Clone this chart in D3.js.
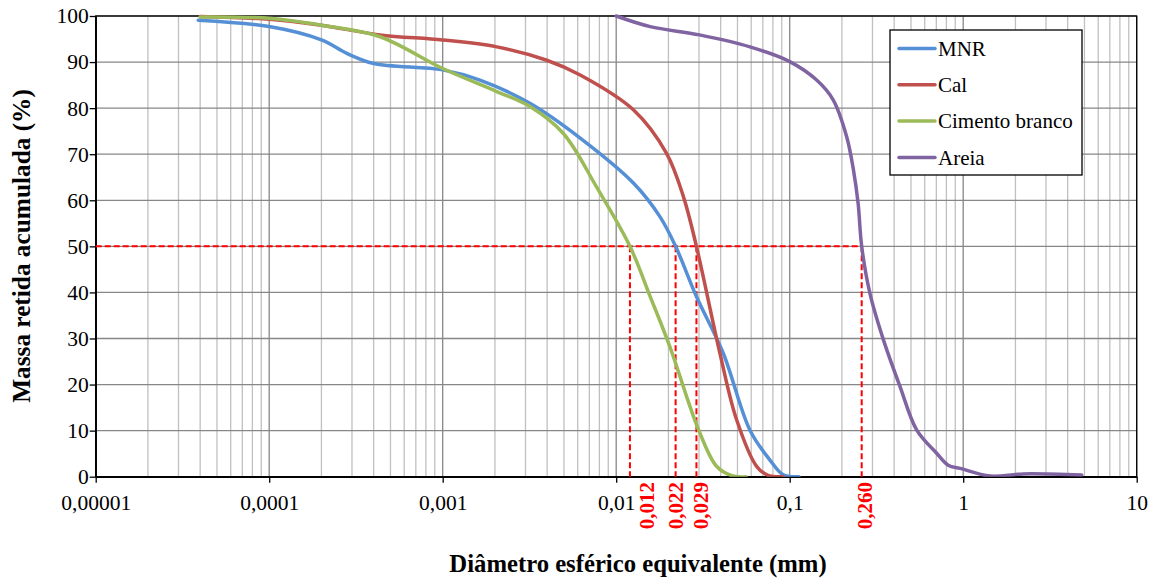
<!DOCTYPE html>
<html><head><meta charset="utf-8">
<script src="https://cdn.jsdelivr.net/npm/d3@7"></script>
<style>body{margin:0;background:#fff}svg{display:block}</style>
</head><body><svg id="c" width="1152" height="578"></svg>
<script>
const seriesNames = ["MNR","Cal","Cimento branco","Areia"];
const seriesColors = ["#5590D6","#C0504D","#9BBB59","#8064A2"];
const mnrD = [3.9e-5,1e-4,2e-4,2.8e-4,4e-4,1e-3,1.64e-3,3.2e-3,6.2e-3,0.0126,0.0179,0.022,0.029,0.0414,0.059,0.077,0.0918,0.113];
const mnrP = [99.1,97.7,94.8,91.9,89.7,88.3,86.1,81.0,73.5,63.7,56.4,50,39.1,26.8,10.1,3.6,0.4,0];
const calD = [4e-5,1e-4,2e-4,4.35e-4,1e-3,2.05e-3,3.98e-3,6.2e-3,0.0126,0.0195,0.0244,0.029,0.0396,0.0495,0.0646,0.075,0.092];
const calP = [99.9,99.3,98.0,95.9,94.8,93.3,90.4,87.2,79.6,70.2,60.8,50,26.8,12.3,2.2,0.3,0];
const cimD = [4e-5,1e-4,2e-4,4.35e-4,1e-3,2.05e-3,3.2e-3,4.96e-3,7.7e-3,0.012,0.0157,0.0204,0.0299,0.038,0.047,0.056];
const cimP = [99.8,99.5,98.0,95.5,88.6,83.6,80.3,74.5,62.9,50,39.1,28.2,10.1,2.2,0.15,0];
const areD = [0.01,0.0157,0.0302,0.059,0.1,0.143,0.178,0.213,0.233,0.248,0.26,0.29,0.347,0.433,0.54,0.703,0.82,0.96,1.43,2.22,4.82];
const areP = [100,97.7,95.9,93.3,90.1,86.1,81.8,73.8,66.6,59.3,50,39.8,29.7,19.5,10.1,5.1,2.5,1.8,0.15,0.6,0.37];
const d50Values = [0.012,0.022,0.029,0.26];
const d50Labels = ["0,012","0,022","0,029","0,260"];
const xTickValues = [1e-5,1e-4,1e-3,1e-2,1e-1,1,10];
const xTickLabels = ["0,00001","0,0001","0,001","0,01","0,1","1","10"];
const yTickValues = [0,10,20,30,40,50,60,70,80,90,100];

const seriesData = [[mnrD,mnrP],[calD,calP],[cimD,cimP],[areD,areP]];
const FONT = '"Liberation Serif"';

const svg = d3.select("#c");
const L = 95.7, R = 1136.7, T = 16, B = 476.7;
const x = d3.scaleLog().domain([1e-5,10]).range([L,R]);
const y = d3.scaleLinear().domain([0,100]).range([B,T]);

svg.append("defs").append("clipPath").attr("id","clip").append("rect")
  .attr("x",L).attr("y",T-3).attr("width",R-L).attr("height",B-T+3);

const minor = [];
for (let e=-5;e<1;e++) for (let k=2;k<=9;k++) minor.push(k*Math.pow(10,e));
svg.append("g").selectAll("line").data(minor).join("line")
  .attr("x1",d=>x(d)).attr("x2",d=>x(d)).attr("y1",T).attr("y2",B)
  .attr("stroke","#C0C0C0").attr("stroke-width",1.3);
svg.append("g").selectAll("line").data(xTickValues).join("line")
  .attr("x1",d=>x(d)).attr("x2",d=>x(d)).attr("y1",T).attr("y2",B)
  .attr("stroke","#878787").attr("stroke-width",1.3);
svg.append("g").selectAll("line").data(yTickValues).join("line")
  .attr("x1",L).attr("x2",R).attr("y1",d=>y(d)).attr("y2",d=>y(d))
  .attr("stroke","#878787").attr("stroke-width",1.3);
svg.append("rect").attr("x",L).attr("y",T).attr("width",R-L).attr("height",B-T)
  .attr("fill","none").attr("stroke","#000").attr("stroke-width",1.3);

const xAxis = d3.axisBottom(x).tickValues(xTickValues).tickFormat((d,i)=>xTickLabels[i]).tickSize(6).tickSizeOuter(0);
const gx = svg.append("g").attr("transform",`translate(0,${B})`).call(xAxis);
gx.attr("font-family",FONT).attr("font-size",21.5);
gx.select(".domain").attr("stroke","#000").attr("stroke-width",1.5);
gx.selectAll(".tick line").attr("stroke","#000").attr("stroke-width",1.3);
gx.selectAll(".tick text").style("font-family",FONT).style("font-size","21.5px").attr("fill","#000").attr("dy","1.12em");
const yAxis = d3.axisLeft(y).tickValues(yTickValues).tickSize(6).tickSizeOuter(0);
const gy = svg.append("g").attr("transform",`translate(${L},0)`).call(yAxis);
gy.attr("font-family",FONT).attr("font-size",21.5);
gy.select(".domain").attr("stroke","#000").attr("stroke-width",1.5);
gy.selectAll(".tick line").attr("stroke","#000").attr("stroke-width",1.3);
gy.selectAll(".tick text").style("font-family",FONT).style("font-size","21.5px").attr("fill","#000").attr("x",-7);

const dash = svg.append("g").attr("stroke","#FF0000").attr("stroke-width",2).attr("stroke-dasharray","6,3").attr("fill","none");
dash.append("line").attr("x1",L).attr("x2",x(d3.max(d50Values))).attr("y1",y(50)).attr("y2",y(50));
dash.selectAll("line.v").data(d50Values).join("line").attr("class","v")
  .attr("x1",d=>x(d)).attr("x2",d=>x(d)).attr("y1",y(50)).attr("y2",B);

const line = d3.line().x(d=>x(d[0])).y(d=>y(d[1])).curve(d3.curveCatmullRom.alpha(0.5));
const gs = svg.append("g").attr("clip-path","url(#clip)");
seriesData.forEach((s,i)=>{
  const pts = s[0].map((d,j)=>[d,s[1][j]]);
  gs.append("path").datum(pts).attr("d",line).attr("fill","none")
    .attr("stroke",seriesColors[i]).attr("stroke-width",3.5).attr("stroke-linejoin","round").attr("stroke-linecap","round");
});

const labelShift = [17,0,4,3];
svg.append("g").selectAll("text").data(d50Values).join("text")
  .attr("transform",(d,i)=>`translate(${x(d)+labelShift[i]},482) rotate(-90)`)
  .attr("text-anchor","end").attr("dy","0.35em")
  .style("font-family",FONT).style("font-size","21px").style("font-weight","bold").attr("fill","#FF0000")
  .text((d,i)=>d50Labels[i]);

const lg = svg.append("g");
lg.append("rect").attr("x",890).attr("y",30).attr("width",192).attr("height",145)
  .attr("fill","#fff").attr("stroke","#000").attr("stroke-width",1.3);
seriesNames.forEach((n,i)=>{
  const yy = 48.5 + i*36.3;
  lg.append("line").attr("x1",899).attr("x2",935).attr("y1",yy).attr("y2",yy)
    .attr("stroke",seriesColors[i]).attr("stroke-width",3.5).attr("stroke-linecap","round");
  lg.append("text").attr("x",938).attr("y",yy).attr("dy","0.35em")
    .style("font-family",FONT).style("font-size","21px").attr("fill","#000").text(n);
});

svg.append("text").attr("x",638).attr("y",572).attr("text-anchor","middle")
  .style("font-family",FONT).style("font-size","24.7px").style("font-weight","bold").text("Diâmetro esférico equivalente (mm)");
svg.append("text").attr("transform","translate(30,246) rotate(-90)").attr("text-anchor","middle")
  .style("font-family",FONT).style("font-size","25.3px").style("font-weight","bold").text("Massa retida acumulada (%)");
</script></body></html>
